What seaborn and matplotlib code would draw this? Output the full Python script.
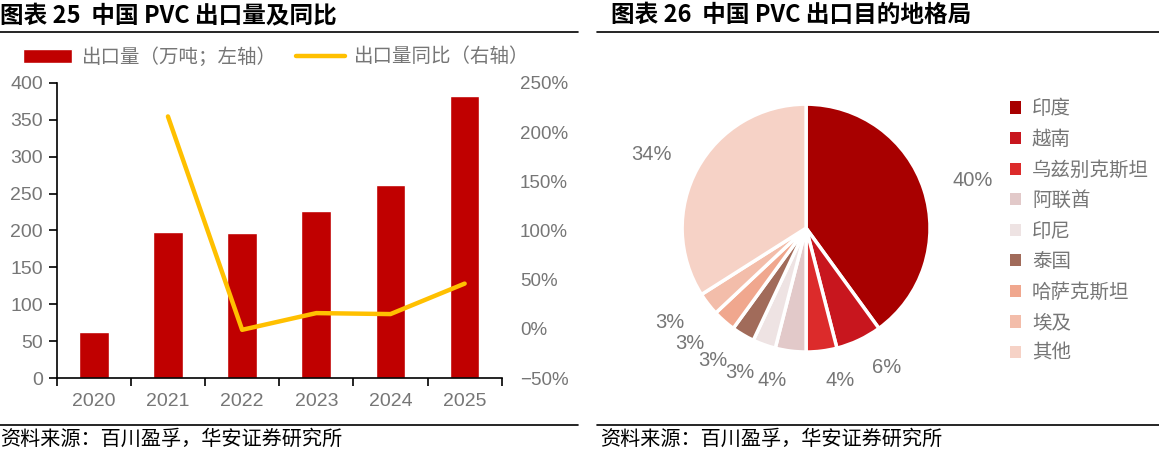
import numpy as np
import pandas as pd
import matplotlib
matplotlib.use("Agg")
import matplotlib.pyplot as plt
from matplotlib.lines import Line2D
from matplotlib.patches import Patch
from matplotlib.ticker import FuncFormatter, MultipleLocator, FixedLocator
import seaborn as sns

# 数据
years = ["2020", "2021", "2022", "2023", "2024", "2025"]
export_vol = [62, 198, 196, 227, 262, 382]          # 万吨
export_yoy = [np.nan, 216, -1, 16, 15, 46]          # %

dest_names = ["印度", "越南", "乌兹别克斯坦", "阿联酋", "印尼", "泰国", "哈萨克斯坦", "埃及", "其他"]
dest_share = [40, 6, 4, 4, 3, 3, 3, 3, 34]
dest_colors = ["#A80000", "#C8161E", "#DC2B2B", "#E2C9C9", "#EEE3E3",
               "#A16B5A", "#F0A78E", "#F3BDAA", "#F6D2C6"]

sns.set_theme(style="white")
plt.rcParams['font.family'] = ['Liberation Sans', 'Noto Sans CJK SC', 'DejaVu Sans']
CJK = ['Noto Sans CJK SC', 'DejaVu Sans']
GREY = "#767676"

fig = plt.figure(figsize=(11.59, 4.54), dpi=100)

# ---------- 图表 25 ----------
ax = fig.add_axes([0.0489, 0.1674, 0.384, 0.6498])
df = pd.DataFrame({"year": years, "vol": export_vol})
sns.barplot(data=df, x="year", y="vol", color="#C00000", width=0.4,
            saturation=1, ax=ax, label="出口量（万吨；左轴）")
if ax.get_legend() is not None:
    ax.get_legend().remove()
ax.set_xlim(-0.5, len(years) - 0.5)
ax.set_ylim(0, 400)
ax.yaxis.set_major_locator(MultipleLocator(50))
ax.set_xlabel("")
ax.set_ylabel("")
# 刻度线放在柱子之间
ax.xaxis.set_major_locator(FixedLocator(np.arange(len(years) + 1) - 0.5))
ax.xaxis.set_minor_locator(FixedLocator(np.arange(len(years))))
ax.set_xticklabels([], minor=False)
ax.set_xticklabels(years, minor=True)
ax.tick_params(axis="x", which="major", length=6, width=1.2, color="black", direction="out", bottom=True)
ax.tick_params(axis="x", which="minor", length=0, pad=11, labelsize=14, labelcolor=GREY)
ax.tick_params(axis="y", length=6, width=1.2, color="black", direction="out", left=True,
               pad=4, labelsize=14, labelcolor=GREY)
for s in ["top", "right"]:
    ax.spines[s].set_visible(False)
for s in ["left", "bottom"]:
    ax.spines[s].set_color("black")
    ax.spines[s].set_linewidth(1.2)

ax2 = ax.twinx()
line_df = pd.DataFrame({"x": np.arange(len(years)), "yoy": export_yoy})
sns.lineplot(data=line_df, x="x", y="yoy", color="#FFC000", linewidth=3.2,
             ax=ax2, label="出口量同比（右轴）", solid_capstyle="round")
ax2.set_ylim(-50, 250)
ax2.yaxis.set_major_locator(MultipleLocator(50))
ax2.yaxis.set_major_formatter(FuncFormatter(lambda v, p: f"{v:.0f}%".replace("-", "\u2212")))
ax2.tick_params(axis="y", length=0, pad=13, labelsize=13.5, labelcolor=GREY)
ax2.set_ylabel("")
for s in ax2.spines.values():
    s.set_visible(False)
ax2.get_legend().remove()

h1, l1 = ax.get_legend_handles_labels()
h2, l2 = ax2.get_legend_handles_labels()
leg = fig.legend(h1 + h2, l1 + l2, loc="center left", bbox_to_anchor=(0.005, 1 - 57 / 454),
                 ncol=2, frameon=False, prop={"family": CJK, "size": 14},
                 handlelength=2.5, handleheight=0.75, columnspacing=1.0, handletextpad=0.5)
for t in leg.get_texts():
    t.set_color(GREY)

# ---------- 图表 26 ----------
axp = fig.add_axes([0.535, 0.0881, 0.321, 0.819])
wedges, texts = axp.pie(dest_share, colors=dest_colors, startangle=90, counterclock=False,
                        labels=[f"{v}%" for v in dest_share], labeldistance=1.24,
                        wedgeprops={"edgecolor": "white", "linewidth": 2.5},
                        textprops={"fontsize": 14.5, "color": GREY})
axp.set_xlim(-1.5, 1.5)
axp.set_ylim(-1.5, 1.5)
axp.set_aspect("equal")
axp.axis("off")

handles = [Patch(facecolor=c, edgecolor="none") for c in dest_colors]
leg2 = fig.legend(handles, dest_names, loc="upper left", bbox_to_anchor=(0.856, 1 - 81 / 454),
                  frameon=False, prop={"family": CJK, "size": 14},
                  handlelength=0.6, handleheight=0.6, handletextpad=0.55, labelspacing=0.49)
for t in leg2.get_texts():
    t.set_color(GREY)

# ---------- 标题、分隔线、来源 ----------
fig.text(0.0, 1 - 15 / 454, "图表 25  中国 PVC 出口量及同比", family=CJK, fontsize=17,
         weight="bold", va="center", ha="left", color="black")
fig.text(611 / 1159, 1 - 15 / 454, "图表 26  中国 PVC 出口目的地格局", family=CJK, fontsize=17,
         weight="bold", va="center", ha="left", color="black")
for x0, x1 in [(0.0, 578 / 1159), (597 / 1159, 1.0)]:
    fig.add_artist(Line2D([x0, x1], [1 - 32 / 454] * 2, color="black", linewidth=1.2))
    fig.add_artist(Line2D([x0, x1], [1 - 425 / 454] * 2, color="black", linewidth=1.2))
fig.text(0.0, 1 - 439 / 454, "资料来源：百川盈孚，华安证券研究所", family=CJK, fontsize=14.5,
         va="center", ha="left", color="black")
fig.text(600 / 1159, 1 - 439 / 454, "资料来源：百川盈孚，华安证券研究所", family=CJK, fontsize=14.5,
         va="center", ha="left", color="black")

fig.savefig("out.png", dpi=100)
